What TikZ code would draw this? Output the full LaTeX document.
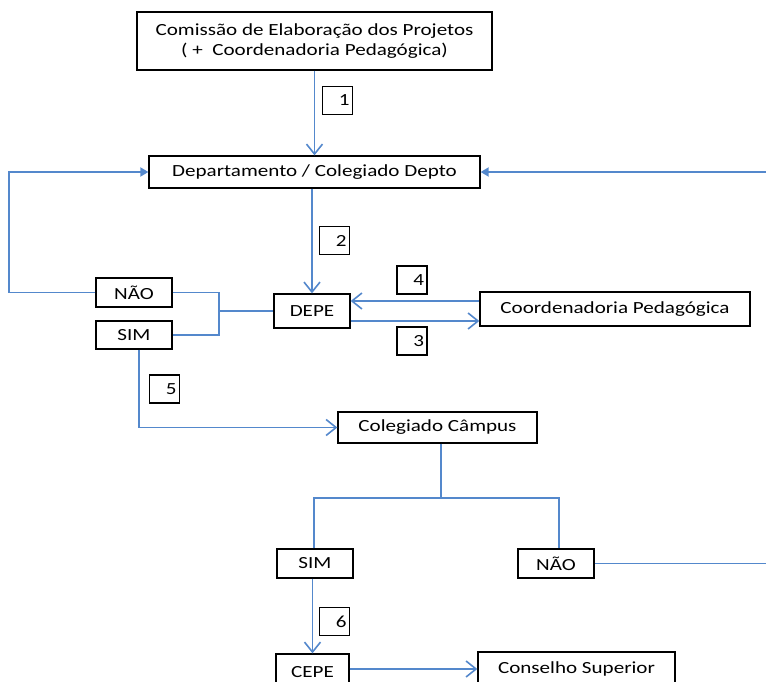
\documentclass[tikz,border=0pt]{standalone}
\usepackage{fontspec}
\setmainfont{Carlito}[FakeStretch=1.24]
\usetikzlibrary{arrows.meta,calc}
\definecolor{flowblue}{RGB}{84,136,204}
\tikzset{
  box/.style={draw=black, line width=1.3pt, inner sep=0pt, align=center, font=\fontsize{17}{20}\selectfont},
  numbox/.style={draw=black, line width=1.3pt, inner sep=0pt, minimum width=30pt, minimum height=28pt, text width=24pt, align=right, font=\fontsize{17}{20}\selectfont},
  flow/.style={draw=flowblue, line width=1.8pt},
  arr/.style={flow, -{Straight Barb[length=10pt,width=16pt,line width=1.6pt]}},
  farr/.style={flow, -{Triangle[length=8pt,width=9pt]}},
}
\begin{document}
\begin{tikzpicture}[x=1pt,y=-1pt]
\useasboundingbox (0,0) rectangle (766,681);
\clip (0,0) rectangle (766,681);
% boxes
\node[box, minimum width=355pt, minimum height=58pt] (top) at (314.5,41) {Comissão de Elaboração dos Projetos\\( +\ \ Coordenadoria Pedagógica)};
\node[box, minimum width=331pt, minimum height=32pt] (dept) at (314.5,172) {Departamento / Colegiado Depto};
\node[box, minimum width=76pt, minimum height=29pt] (nao1) at (134,292.5) {NÃO};
\node[box, minimum width=76pt, minimum height=28pt] (sim1) at (134,335) {SIM};
\node[box, minimum width=76pt, minimum height=34pt] (depe) at (312,311) {DEPE};
\node[box, minimum width=270pt, minimum height=34pt] (coord) at (615,309) {Coordenadoria Pedagógica};
\node[box, minimum width=199pt, minimum height=31pt] (camp) at (437.5,427.5) {Colegiado Câmpus};
\node[box, minimum width=76pt, minimum height=29pt] (sim2) at (315,563.5) {SIM};
\node[box, minimum width=76pt, minimum height=29pt] (nao2) at (556,563.5) {NÃO};
\node[box, minimum width=73pt, minimum height=36pt] (cepe) at (312.5,672) {CEPE};
\node[box, minimum width=197pt, minimum height=34pt] (cons) at (576.5,669) {Conselho Superior};
% number labels
\node[numbox] (n1) at (337.5,100.5) {1};
\node[numbox] (n2) at (334.5,240.5) {2};
\node[numbox] (n4) at (412,280) {4};
\node[numbox] (n3) at (412,341) {3};
\node[numbox] (n5) at (164.5,389) {5};
\node[numbox] (n6) at (334.5,621.5) {6};
% coordinates
\coordinate (lx) at (9,0);
\coordinate (bx) at (219,0);
\coordinate (rin) at (766,172);
\coordinate (rout) at (766,562);
\coordinate (s5) at (139,0);
\coordinate (sp) at (441,498);
\coordinate (spl) at (314,498);
\coordinate (spr) at (559,498);
% connectors
\draw[arr] (top.south) -- (dept.north);
\draw[farr] (nao1.west) -- (nao1.west -| lx) |- (dept.west);
\draw[farr] (rin) -- (dept.east);
\draw[arr] (depe.north |- dept.south) -- (depe.north);
\draw[flow] (nao1.east) -| (bx |- sim1.east) -- (sim1.east);
\draw[flow] (bx |- depe.west) -- (depe.west);
\draw[arr] ([yshift=10pt]depe.east -| coord.west) -- ([yshift=10pt]depe.east);
\draw[arr] ([yshift=-10pt]depe.east) -- ([yshift=-10pt]depe.east -| coord.west);
\draw[arr] (s5 |- sim1.south) |- (camp.west);
\draw[flow] (sp |- camp.south) -- (sp);
\draw[flow] (spl |- sim2.north) -- (spl) -- (spr) -- (spr |- nao2.north);
\draw[flow] (nao2.east) -- (rout |- nao2.east);
\draw[arr] (sim2.south -| cepe.north) -- (cepe.north);
\draw[arr] (cepe.east |- cons.west) -- (cons.west);
\end{tikzpicture}
\end{document}
